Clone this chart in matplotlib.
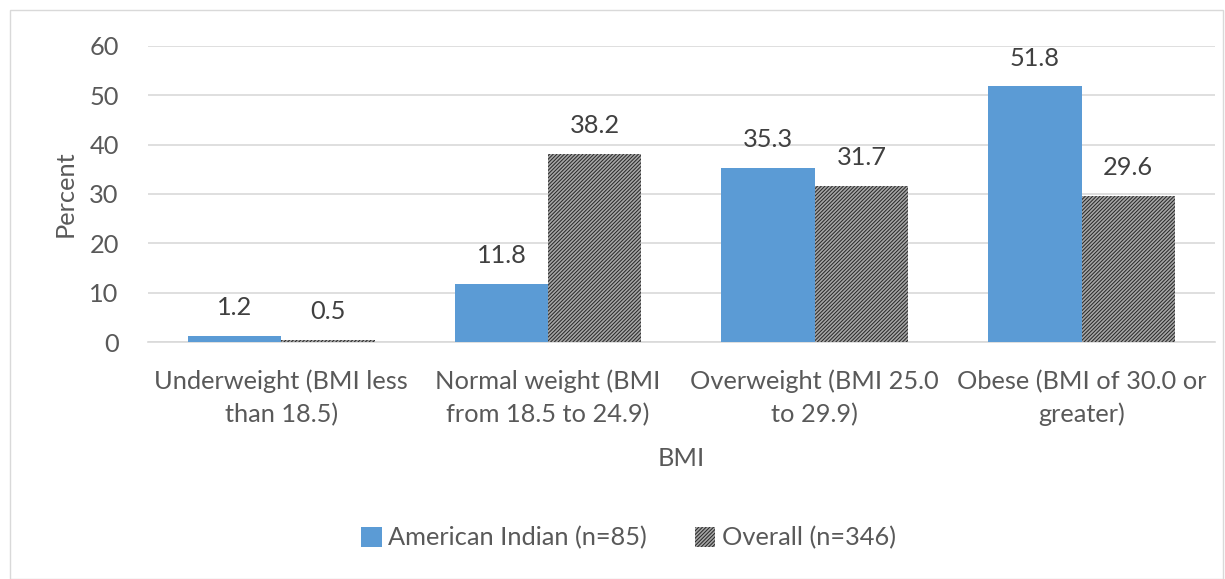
import matplotlib
matplotlib.use("Agg")
import matplotlib.pyplot as plt
import numpy as np
from matplotlib.patches import Rectangle

categories = ["Underweight (BMI less\nthan 18.5)", "Normal weight (BMI\nfrom 18.5 to 24.9)",
              "Overweight (BMI 25.0\nto 29.9)", "Obese (BMI of 30.0 or\ngreater)"]
american_indian = [1.2, 11.8, 35.3, 51.8]
overall = [0.5, 38.2, 31.7, 29.6]

plt.rcParams['font.family'] = ['Lato', 'DejaVu Sans']
plt.rcParams['hatch.linewidth'] = 0.7
txt = '#595959'
fs = 18.3

fig = plt.figure(figsize=(12.25, 5.79), dpi=100)
ax = fig.add_axes([0.1208, 0.4093, 0.8710, 0.5113])
fig.patches.append(Rectangle((10 / 1225, 0), 1 - 12 / 1225, 1 - 10 / 579, transform=fig.transFigure,
                             fill=False, edgecolor='#d9d9d9', linewidth=1))

x = np.arange(len(categories))
w = 0.35
b1 = ax.bar(x - w / 2, american_indian, w, color='#5b9bd5', label='American Indian (n=85)', zorder=3)
b2 = ax.bar(x + w / 2, overall, w, color='#a6a6a6', edgecolor='#262626', hatch='/////////', linewidth=0,
            label='Overall (n=346)', zorder=3)

for bars, vals in ((b1, american_indian), (b2, overall)):
    for r, v in zip(bars, vals):
        ax.text(r.get_x() + r.get_width() / 2, v + 3.4, f"{v:.1f}", ha='center', va='bottom',
                fontsize=fs, color='#404040')

ax.set_xlim(-0.5, 3.5)
ax.set_ylim(0, 60)
ax.set_yticks(range(0, 61, 10))
ax.set_xticks(x)
ax.set_xticklabels(categories, fontsize=fs, color=txt, linespacing=1.5)
ax.tick_params(axis='y', labelsize=fs, labelcolor=txt, length=0, pad=21)
ax.tick_params(axis='x', length=0, pad=20)
ax.grid(axis='y', color='#d9d9d9', linewidth=1.2, zorder=0)
for s in ('top', 'right', 'left'):
    ax.spines[s].set_visible(False)
ax.spines['bottom'].set_color('#d9d9d9')
ax.spines['bottom'].set_linewidth(1.2)
ax.set_xlabel('BMI', fontsize=fs, color=txt, labelpad=15)
ax.set_ylabel('Percent', fontsize=fs, color=txt, labelpad=9)

fig.legend(handles=[b1, b2], loc='center', bbox_to_anchor=(0.513, 1 - 538 / 579), ncol=2, frameon=False,
           fontsize=fs, labelcolor=txt, handlelength=0.8, handleheight=0.8, handletextpad=0.25,
           columnspacing=1.9)

fig.savefig('out.png', dpi=100)
